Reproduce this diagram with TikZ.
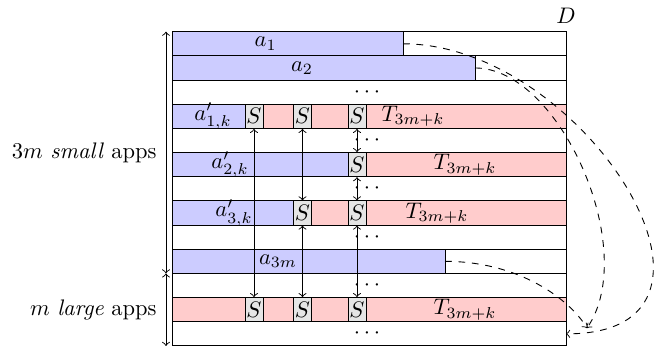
\documentclass[tikz,border=0pt]{standalone}
\begin{document}
\begin{tikzpicture}[x=0.4444pt,y=-10.742pt,
  bluebar/.style={draw,fill=blue!20},
  pinkbar/.style={draw,fill=red!20},
  sbox/.style={draw,fill=gray!20,minimum width=8pt,minimum height=10.742pt,inner sep=0pt},
  lbl/.style={inner sep=0pt},
  link/.style={<->},
  curve/.style={->,dashed}]
\useasboundingbox (0,-1.3116) rectangle (664,13.169);
% rows
\foreach \r in {0,...,12} \draw (172,\r) rectangle (566,\r+1);
% bars
\draw[bluebar] (172,0) rectangle (403,1);
\draw[bluebar] (172,1) rectangle (475,2);
\draw[bluebar] (172,3) rectangle (245,4);
\draw[pinkbar] (245,3) rectangle (566,4);
\draw[bluebar] (172,5) rectangle (348.3,6);
\draw[pinkbar] (348.3,5) rectangle (566,6);
\draw[bluebar] (172,7) rectangle (293.3,8);
\draw[pinkbar] (293.3,7) rectangle (566,8);
\draw[bluebar] (172,9) rectangle (445,10);
\draw[pinkbar] (172,11) rectangle (566,12);
% S boxes
\node[sbox] (s1a) at (254,3.5) {$S$};
\node[sbox] (s2a) at (302.5,3.5) {$S$};
\node[sbox] (s3a) at (357,3.5) {$S$};
\node[sbox] (s3b) at (357,5.5) {$S$};
\node[sbox] (s2c) at (302.5,7.5) {$S$};
\node[sbox] (s3c) at (357,7.5) {$S$};
\node[sbox] (s1d) at (254,11.5) {$S$};
\node[sbox] (s2d) at (302.5,11.5) {$S$};
\node[sbox] (s3d) at (357,11.5) {$S$};
% labels
\node[lbl] (la1) at (265.7,0.5) {$a_1$};
\node[lbl] (la2) at (302,1.5) {$a_2$};
\node[lbl] (lb1) at (213,3.5) {$a'_{1,k}$};
\node[lbl] (lb2) at (230,5.5) {$a'_{2,k}$};
\node[lbl] (lb3) at (234,7.5) {$a'_{3,k}$};
\node[lbl] (la3m) at (278,9.5) {$a_{3m}$};
\node[lbl] (t1) at (413,3.5) {$T_{3m+k}$};
\node[lbl] (t2) at (465,5.5) {$T_{3m+k}$};
\node[lbl] (t3) at (437,7.5) {$T_{3m+k}$};
\node[lbl] (t4) at (465,11.5) {$T_{3m+k}$};
\foreach \r in {2,4,6,8,10,12} \node[lbl] (dots\r) at (367,\r+0.5) {$\cdots$};
\node[lbl] (D) at (566,-0.65) {$D$};
% vertical links
\draw[link] (s1a.south) -- (s1d.north);
\draw[link] (s2a.south) -- (s2c.north);
\draw[link] (s2c.south) -- (s2d.north);
\draw[link] (s3a.south) -- (s3b.north);
\draw[link] (s3b.south) -- (s3c.north);
\draw[link] (s3c.south) -- (s3d.north);
% left brace arrows
\coordinate (L0) at (166,0);
\coordinate (L1) at (166,10);
\coordinate (L2) at (166,13);
\draw[link] (L0) -- (L1);
\draw[link] (L1) -- (L2);
\node[lbl,anchor=east] (lsmall) at (157,5) {$3m$ \emph{small} apps};
\node[lbl,anchor=east] (llarge) at (157,11.5) {$m$ \emph{large} apps};
% dashed curves
\coordinate (a1e) at (403,0.5);
\coordinate (a2e) at (475,1.5);
\coordinate (a3e) at (445,9.5);
\coordinate (tA) at (566,12.5);
\coordinate (tB) at (587,12.26);
\draw[curve] (a1e) .. controls (585,0.5) and (765,12.5) .. (tA);
\draw[curve] (a2e) .. controls (560,1.5) and (640,9.03) .. (tB);
\draw[curve] (a3e) .. controls (520,9.5) and (570,11.1) .. (tB);
\end{tikzpicture}
\end{document}
